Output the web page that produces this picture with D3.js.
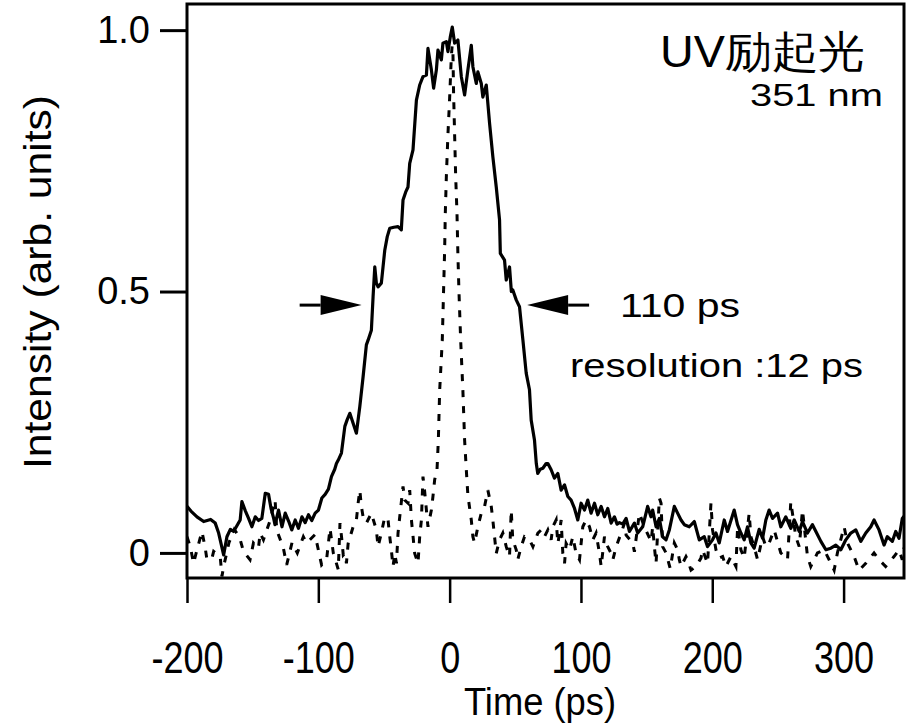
<!DOCTYPE html>
<html>
<head>
<meta charset="utf-8">
<script src="https://cdn.jsdelivr.net/npm/d3@7"></script>
<style>
  body { margin: 0; background: #fff; }
  svg { display: block; }
  text { font-family: "Liberation Sans", Arial, sans-serif; fill: #000; }
</style>
</head>
<body>
<svg width="913" height="727"></svg>
<script>
// streak camera profile, UV excitation 351 nm (solid) and instrument response (dotted)
const solidTime = [
  -200, -197, -192.4, -187.3, -182, -178.5, -175.9, -172.1, -169.6, -167, -164.5, -162, -159.5, -158.2,
  -155.5, -153.1, -150.6, -148, -145.5, -143, -140.4, -137.9, -136, -134, -133, -130.3, -127.7, -125.2,
  -122.5, -120.2, -117.6, -115.1, -112.5, -110, -107.5, -105, -102.4, -99.9, -97.3, -94.8, -92.3, -90,
  -87.5, -86.2, -84.7, -82.4, -79.8, -78, -76, -73.5, -71, -68.4, -65.9, -63.4, -62.1, -59.6, -58.3, -57,
  -55.8, -54.5, -52, -49.4, -47.5, -45.6, -42.5, -39.3, -36.8, -35.5, -33.5, -31.7, -30.4, -27.9, -25.3,
  -22.8, -20.3, -17.7, -16.5, -13.9, -12.2, -10.1, -8.9, -6.3, -5.1, -2.5, -1.3, 0.5, 2, 3.8, 6.3, 8.9,
  11.4, 13.9, 16.5, 17.7, 20.3, 21.5, 24.1, 25.3, 27.9, 30.4, 32.9, 35.5, 38, 38.6, 41.8, 43.1, 45.6, 47,
  48.1, 50.7, 53.2, 55.8, 58.3, 60.8, 62.1, 64.6, 66, 67.1, 69, 71, 73.5, 74.8, 77.3, 79.8, 82.4, 84.9,
  87.5, 90, 92.5, 95.1, 97.6, 100.1, 102.7, 105.2, 107.7, 110.3, 112.8, 115.4, 117.9, 120.4, 123, 125.5,
  127.5, 129.3, 131.8, 134.4, 136.9, 140.7, 143.2, 147, 150.8, 153.3, 154.6, 157.2, 159.7, 162.2, 164.8,
  167.3, 171.1, 173.6, 176.2, 178.7, 182.5, 186.3, 190.1, 193.9, 196.4, 200.2, 202.8, 205.3, 209.1, 211.6,
  216.7, 219.2, 221.8, 224.3, 226.8, 229.4, 231.9, 235.7, 238.3, 240.8, 243.3, 245.9, 249.7, 252.2, 256,
  259.8, 262.4, 266.2, 268.7, 272.5, 276.3, 278.9, 282.7, 286.5, 290.3, 294.1, 297.9, 301.7, 305.5, 309.3,
  313.1, 316.9, 320.7, 323.2, 327, 330.8, 333.3, 337.1, 339.7, 342.2, 344.7, 346
];
const solidValue = [
  0.089, 0.080, 0.069, 0.060, 0.064, 0.057, 0.038, -0.004, 0.031, 0.045, 0.041, 0.052, 0.063, 0.098,
  0.080, 0.066, 0.050, 0.069, 0.062, 0.066, 0.114, 0.112, 0.085, 0.066, 0.054, 0.082, 0.050, 0.076,
  0.060, 0.044, 0.063, 0.047, 0.069, 0.058, 0.073, 0.062, 0.076, 0.082, 0.105, 0.112, 0.122, 0.146,
  0.160, 0.171, 0.178, 0.191, 0.242, 0.255, 0.267, 0.248, 0.229, 0.280, 0.337, 0.398, 0.407, 0.426, 0.490, 0.547,
  0.516, 0.509, 0.516, 0.579, 0.605, 0.621, 0.623, 0.624, 0.618, 0.675, 0.690, 0.700, 0.745, 0.771, 0.866,
  0.895, 0.911, 0.914, 0.965, 0.924, 0.889, 0.924, 0.962, 0.943, 0.975, 0.978, 0.959, 0.987, 1.006, 0.975, 0.981, 0.911,
  0.876, 0.924, 0.971, 0.930, 0.898, 0.920, 0.898, 0.872, 0.895, 0.822, 0.758, 0.700, 0.637, 0.573, 0.560, 0.522, 0.547, 0.500,
  0.503, 0.484, 0.471, 0.407, 0.344, 0.312, 0.254, 0.216, 0.171, 0.152, 0.160, 0.162, 0.171, 0.171, 0.159, 0.143, 0.152, 0.120,
  0.130, 0.108, 0.101, 0.085, 0.063, 0.095, 0.082, 0.101, 0.076, 0.095, 0.073, 0.089, 0.069, 0.085, 0.057, 0.069,
  0.055, 0.058, 0.055, 0.066, 0.041, 0.057, 0.038, 0.050, 0.089, 0.069, 0.082, 0.050, 0.066, 0.031, 0.025,
  0.044, 0.089, 0.076, 0.063, 0.054, 0.050, 0.060, 0.025, 0.031, 0.012, 0.025, 0.038, 0.019, 0.063, 0.041,
  0.082, 0.054, 0.038, 0.025, 0.050, 0.019, 0.009, 0.045, 0.028, 0.063, 0.082, 0.066, 0.076, 0.050, 0.069,
  0.047, 0.063, 0.041, 0.060, 0.038, 0.054, 0.041, 0.022, 0.006, 0.009, 0.015, 0.006, 0.025, 0.038, 0.044,
  0.022, 0.038, 0.050, 0.063, 0.044, 0.015, 0.031, 0.022, 0.041, 0.028, 0.066, 0.070
];

const dottedTime = [
  -200, -197.5, -195, -192.4, -188.6, -186.1, -184.8, -181, -179.7, -174.7, -173.4, -172.1, -168, -164, -160,
  -157, -152, -149.4, -145.6, -144.3, -141.8, -137, -132.9, -131.7, -126.6, -124.1, -120, -116, -111.4,
  -108.9, -102.5, -100, -97.5, -93.7, -91.1, -88.6, -84.8, -83.5, -82.2, -81, -79.9, -78.6, -77.3, -73.5,
  -71, -69.7, -68.4, -67.2, -65.9, -63.4, -59.6, -55.8, -54.5, -52, -49.4, -46.9, -45.6, -44.4, -43.1,
  -41.8, -40.5, -39.3, -38, -35.5, -34.2, -31.7, -30.4, -29.1, -26.6, -24.1, -22.8, -21.5, -20.3, -19,
  -16.5, -13.9, -12.7, -11.4, -9.6, -8.6, -7.6, -5.6, -4.6, -3.8, -3.3, -2.5, -1.3, 0, 1.3, 1.9, 2.5, 3.0,
  3.8, 4.6, 5.6, 6.3, 7.1, 8.4, 10.1, 11.4, 12.7, 13.9, 16.5, 17.7, 19, 21.5, 24.1, 26.6, 29.1, 31.7, 32.9,
  34.2, 35.5, 38, 40.5, 43.1, 45.6, 46.9, 48.1, 50.7, 51.9, 54.5, 57, 60.8, 63.4, 67.2, 69.7, 72.2, 74.8,
  77.3, 78.6, 81.1, 82.4, 83.7, 84.9, 86.2, 87.5, 88.7, 91.3, 93.8, 96.3, 98.9, 101.4, 103.9, 106.5, 109,
  111.5, 114.1, 115.4, 117.9, 120.4, 123, 124.3, 126.8, 130.6, 133.2, 134.4, 139.5, 140.7, 144.5, 148.3,
  153.4, 154.6, 155.9, 157.2, 159.7, 161, 162.2, 164.8, 168, 171.1, 173.6, 174.9, 176.2, 180, 181.2, 183.8,
  187.6, 191.4, 192.6, 196.4, 199, 200.2, 202.8, 205.3, 207.9, 210.4, 214.2, 218, 219.3, 221.8, 224.3,
  228.1, 229.4, 231.9, 234.5, 238.3, 240.8, 243.3, 247.1, 252.2, 257.3, 259.8, 263.6, 266.2, 268.7, 272.5,
  275, 280.1, 285.2, 289, 292.8, 295.3, 300.4, 302.9, 308, 311.8, 316.9, 323.2, 327, 332, 338.4, 342.2,
  344.7, 346
];
const dottedValue = [
  0.031, 0.012, -0.020, 0.006, 0.041, 0.009, -0.013, -0.010, 0.003, -0.007, -0.045, -0.026, 0.020, 0.045, 0.030,
  0.003, -0.013, 0.019, 0.009, 0.038, 0.025, 0.060, 0.101, 0.044, 0.009, -0.023, 0.020, 0.000, 0.031,
  0.019, 0.035, 0.006, -0.023, -0.013, 0.047, 0.000, -0.032, 0.057, 0.028, -0.004, -0.001, -0.020, 0.018, 0.050,
  0.063, 0.095, 0.120, 0.089, 0.069, 0.057, 0.076, 0.044, 0.012, 0.038, 0.069, 0.063, 0.031, 0.006, -0.026,
  -0.001, -0.020, 0.038, 0.069, 0.127, 0.101, 0.095, 0.120, 0.063, -0.001, -0.020, 0.031, 0.063, 0.146, 0.117,
  0.050, 0.082, 0.108, 0.140, 0.160, 0.216, 0.310, 0.407, 0.503, 0.580, 0.650, 0.720, 0.800, 0.870, 0.950, 0.970, 0.960, 0.880,
  0.800, 0.720, 0.650, 0.570, 0.500, 0.407, 0.310, 0.216, 0.159, 0.110, 0.063, 0.031, 0.019, 0.050, 0.076, 0.089, 0.120, 0.089, 0.063,
  0.031, -0.001, 0.025, 0.038, 0.012, -0.007, 0.082, 0.025, 0.006, -0.013, 0.012, 0.031, 0.025, 0.012, 0.038, 0.044, 0.031, 0.044,
  0.025, 0.050, 0.063, 0.018, 0.038, 0.063, -0.001, -0.020, 0.018, 0.006, 0.031, -0.001, -0.013, 0.050, 0.063, 0.050, 0.025,
  0.038, -0.001, -0.026, 0.031, 0.012, -0.001, -0.013, 0.012, 0.038, 0.057, 0.034, 0.019, 0.002, 0.076, 0.050,
  0.022, 0.050, 0.012, -0.020, 0.105, 0.095, 0.012, 0.000, -0.030, 0.019, 0.006, -0.013, -0.026, -0.007, -0.013, -0.033,
  -0.026, -0.010, 0.006, -0.020, 0.095, 0.044, 0.006, -0.010, -0.007, -0.026, -0.007, -0.026, 0.050, 0.006, -0.010,
  0.076, 0.031, 0.012, -0.013, 0.031, 0.012, 0.019, 0.044, 0.000, -0.013, 0.098, 0.031, 0.012, 0.082, -0.007,
  -0.026, 0.000, 0.006, -0.013, -0.033, 0.000, 0.050, 0.019, -0.007, -0.033, -0.020, 0.000, -0.013, -0.026, -0.007, 0.006,
  -0.013, 0.010
];

const xTicks = [-200, -100, 0, 100, 200, 300];
const xTickLabels = ["-200", "-100", "0", "100", "200", "300"];
const yTicks = [0, 0.5, 1.0];
const yTickLabels = ["0", "0.5", "1.0"];
const fwhmArrows = [-67, 59];   // arrow tips (ps) at half maximum
const fwhmLevel = 0.474;

const svg = d3.select("svg");
const plotLeft = 187, plotRight = 904, plotTop = 4, plotBottom = 578;

const x = d3.scaleLinear().domain([-200, 346]).range([plotLeft, plotRight]);
const y = d3.scaleLinear().domain([-0.048, 1.05]).range([plotBottom, plotTop]);

svg.append("defs").append("clipPath").attr("id", "plot")
  .append("rect").attr("x", plotLeft).attr("y", plotTop)
  .attr("width", plotRight - plotLeft).attr("height", plotBottom - plotTop);

const solid = solidTime.map((t, i) => [t, solidValue[i]]);
const dotted = dottedTime.map((t, i) => [t, dottedValue[i]]);
const line = d3.line().x(d => x(d[0])).y(d => y(d[1]));

const plot = svg.append("g").attr("clip-path", "url(#plot)");

plot.append("path")
  .attr("d", line(dotted))
  .attr("fill", "none")
  .attr("stroke", "#000")
  .attr("stroke-width", 3)
  .attr("stroke-dasharray", "7,9");

plot.append("path")
  .attr("d", line(solid))
  .attr("fill", "none")
  .attr("stroke", "#000")
  .attr("stroke-width", 3.2)
  .attr("stroke-linejoin", "round");

// frame
svg.append("rect")
  .attr("x", plotLeft).attr("y", plotTop)
  .attr("width", plotRight - plotLeft).attr("height", plotBottom - plotTop)
  .attr("fill", "none").attr("stroke", "#000").attr("stroke-width", 3);

// axes
const yAxis = svg.append("g")
  .attr("transform", `translate(${plotLeft},0)`)
  .call(d3.axisLeft(y).tickValues(yTicks)
    .tickFormat((d, i) => yTickLabels[i])
    .tickSize(27).tickPadding(10));
yAxis.select(".domain").remove();
yAxis.selectAll(".tick line").attr("stroke-width", 3);
yAxis.selectAll(".tick text")
  .attr("font-family", "Liberation Sans, Arial, sans-serif")
  .attr("font-size", 38);

const xAxis = svg.append("g")
  .attr("transform", `translate(0,${plotBottom})`)
  .call(d3.axisBottom(x).tickValues(xTicks)
    .tickFormat((d, i) => xTickLabels[i])
    .tickSize(25).tickPadding(38));
xAxis.select(".domain").remove();
xAxis.selectAll(".tick line").attr("stroke-width", 2.5);
xAxis.selectAll(".tick text")
  .attr("font-family", "Liberation Sans, Arial, sans-serif")
  .attr("font-size", 45)
  .attr("transform", "scale(0.8,1)");

// axis titles
svg.append("text")
  .attr("transform", "translate(51,282) rotate(-90)")
  .attr("text-anchor", "middle")
  .attr("font-size", 38)
  .attr("textLength", 374).attr("lengthAdjust", "spacingAndGlyphs")
  .text("Intensity (arb. units)");

svg.append("text")
  .attr("x", 540).attr("y", 715)
  .attr("text-anchor", "middle")
  .attr("font-size", 38)
  .attr("textLength", 152).attr("lengthAdjust", "spacingAndGlyphs")
  .text("Time (ps)");

// annotations
svg.append("text")
  .attr("x", 660).attr("y", 67)
  .attr("font-family", "Noto Sans CJK JP, sans-serif")
  .attr("font-size", 44)
  .attr("textLength", 205).attr("lengthAdjust", "spacingAndGlyphs")
  .text("UV励起光");

svg.append("text")
  .attr("x", 750).attr("y", 106)
  .attr("font-size", 32)
  .attr("textLength", 133).attr("lengthAdjust", "spacingAndGlyphs")
  .text("351 nm");

svg.append("text")
  .attr("x", 620).attr("y", 317)
  .attr("font-size", 33)
  .attr("textLength", 120).attr("lengthAdjust", "spacingAndGlyphs")
  .text("110 ps");

svg.append("text")
  .attr("x", 570).attr("y", 377)
  .attr("font-size", 34)
  .attr("textLength", 293).attr("lengthAdjust", "spacingAndGlyphs")
  .text("resolution :12 ps");

// FWHM arrows
const ay = y(fwhmLevel);
fwhmArrows.forEach(t => {
  const tip = x(t);
  const dir = t < 0 ? -1 : 1;           // tail side
  const base = tip + dir * 41;
  const tail = tip + dir * 62;
  svg.append("line")
    .attr("x1", base).attr("x2", tail).attr("y1", ay).attr("y2", ay)
    .attr("stroke", "#000").attr("stroke-width", 3);
  svg.append("path")
    .attr("d", `M${tip},${ay}L${base},${ay - 10}L${base},${ay + 10}Z`)
    .attr("fill", "#000");
});
</script>
</body>
</html>
